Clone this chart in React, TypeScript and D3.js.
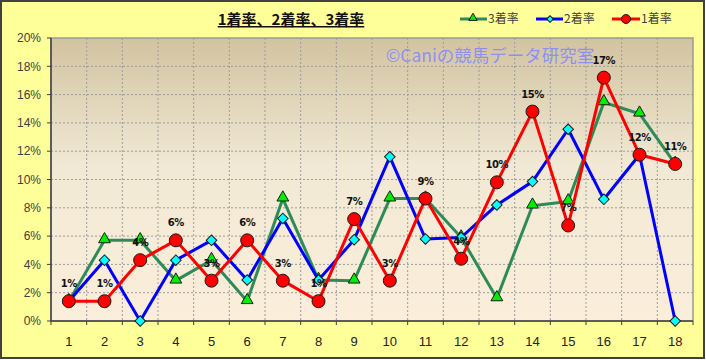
import React from "react";
import * as d3 from "d3";

const categories = ["1","2","3","4","5","6","7","8","9","10","11","12","13","14","15","16","17","18"];
const win = [1.4,1.4,4.3,5.7,2.85,5.7,2.85,1.4,7.2,2.85,8.65,4.4,9.8,14.8,6.75,17.2,11.75,11.1];
const second = [1.4,4.3,0,4.3,5.7,2.9,7.25,2.9,5.75,11.6,5.8,5.9,8.2,9.85,13.55,8.6,11.75,0];
const third = [1.4,5.7,5.7,2.85,4.3,1.4,8.65,2.9,2.85,8.65,8.65,5.9,1.6,8.15,8.45,15.45,14.65,11.1];
const yTicks = [0,2,4,6,8,10,12,14,16,18,20];
const winLabels = ["1%","1%","4%","6%","3%","6%","3%","1%","7%","3%","9%","4%","10%","15%","7%","17%","12%","11%"];

const W = 706, H = 360;
const m = { left: 51, right: 693, top: 38, bottom: 321 };

export default function App() {
  const x = d3.scaleBand<string>().domain(categories).range([m.left, m.right]);
  const y = d3.scaleLinear().domain([0, 20]).range([m.bottom, m.top]);
  const cx = (i: number) => (x(categories[i]) as number) + x.bandwidth() / 2;
  const line = d3.line<number>().x((_, i) => cx(i)).y((d) => y(d));
  const bounds = categories.map((c) => x(c) as number).slice(1);
  const tri = d3.symbol().type(d3.symbolTriangle).size(60)();
  const dia = d3.symbol().type(d3.symbolSquare).size(56)();
  const legendTri = d3.symbol().type(d3.symbolTriangle).size(30)();
  const legendDia = d3.symbol().type(d3.symbolSquare).size(22)();
  const font = "'Noto Sans CJK JP', 'DejaVu Sans', sans-serif";
  return (
    <svg width={W} height={H} style={{ position: "absolute", left: 0, top: 0 }} fontFamily={font}>
      <defs>
        <linearGradient id="bg" x1="0" y1="0" x2="0" y2="1">
          <stop offset="0" stopColor="#D2C3A0" />
          <stop offset="0.45" stopColor="#F1E9D5" />
          <stop offset="1" stopColor="#FBEEDA" />
        </linearGradient>
      </defs>
      <rect x={1} y={1} width={W - 3} height={H - 3} fill="#FFFF99" stroke="#404040" strokeWidth={2} />
      <rect x={m.left} y={m.top} width={m.right - m.left} height={m.bottom - m.top} fill="url(#bg)" stroke="#9a9a9a" strokeWidth={1.5} />
      {yTicks.slice(1, -1).map((t) => (
        <line key={"h" + t} x1={m.left} x2={m.right} y1={y(t)} y2={y(t)} stroke="#9c9c9c" strokeDasharray="2,2" strokeWidth={1} />
      ))}
      {bounds.map((b, i) => (
        <line key={"v" + i} x1={b} x2={b} y1={m.top} y2={m.bottom} stroke="#9c9c9c" strokeDasharray="2,2" strokeWidth={1} />
      ))}
      <line x1={m.left} x2={m.left} y1={m.top} y2={m.bottom} stroke="#404040" strokeWidth={1.5} />
      <line x1={m.left} x2={m.right} y1={m.bottom} y2={m.bottom} stroke="#404040" strokeWidth={1.5} />
      {bounds.concat([m.left, m.right]).map((b, i) => (
        <line key={"t" + i} x1={b} x2={b} y1={m.bottom} y2={m.bottom + 4} stroke="#404040" strokeWidth={1} />
      ))}
      {yTicks.map((t) => (
        <g key={"yl" + t}>
          <line x1={m.left - 4} x2={m.left} y1={y(t)} y2={y(t)} stroke="#404040" />
          <text x={41} y={y(t)} dy="0.35em" textAnchor="end" fontSize={12} fill="#404040" fontFamily="'Liberation Sans', Arial, sans-serif">{t + "%"}</text>
        </g>
      ))}
      {categories.map((c, i) => (
        <text key={"xl" + c} x={cx(i)} y={341} dy="0.35em" textAnchor="middle" fontSize={13} fill="#222" fontFamily="'Liberation Sans', Arial, sans-serif">{c}</text>
      ))}
      <text x={291} y={25} textAnchor="middle" fontSize={15} fontWeight="bold" fill="#111" style={{ textDecoration: "underline" }}>1着率、2着率、3着率</text>
      <text x={490} y={62} textAnchor="middle" fontSize={17.5} fill="#7f86ff" fillOpacity={0.85}>©Caniの競馬データ研究室</text>
      <path d={line(third) || ""} fill="none" stroke="#2E8B57" strokeWidth={3} strokeLinejoin="round" />
      {third.map((v, i) => (
        <path key={"g" + i} d={tri || ""} transform={`translate(${cx(i)},${y(v) - 1})`} fill="#00EE00" stroke="#1a1a1a" strokeWidth={1} />
      ))}
      <path d={line(second) || ""} fill="none" stroke="#0000FF" strokeWidth={3} strokeLinejoin="round" />
      {second.map((v, i) => (
        <path key={"b" + i} d={dia || ""} transform={`translate(${cx(i)},${y(v)}) rotate(45)`} fill="#00FFFF" stroke="#1a1a1a" strokeWidth={1} />
      ))}
      <path d={line(win) || ""} fill="none" stroke="#FF0000" strokeWidth={3} strokeLinejoin="round" />
      {win.map((v, i) => (
        <circle key={"r" + i} cx={cx(i)} cy={y(v)} r={6.5} fill="#FF0000" stroke="#1a1a1a" strokeWidth={1} />
      ))}
      {win.map((v, i) => (
        <text key={"l" + i} x={cx(i)} y={y(v) - 14} textAnchor="middle" fontSize={10} fontWeight="bold" fill="#111" fontFamily="'DejaVu Sans', sans-serif" letterSpacing={-0.5}>{winLabels[i]}</text>
      ))}
      <g fontSize={12} fill="#404040">
        <line x1={460} x2={487} y1={19} y2={19} stroke="#2E8B57" strokeWidth={3} />
        <path d={legendTri || ""} transform="translate(473,18)" fill="#00EE00" stroke="#1a1a1a" />
        <text x={488} y={19} dy="0.35em">3着率</text>
        <line x1={536} x2={563} y1={19} y2={19} stroke="#0000FF" strokeWidth={3} />
        <path d={legendDia || ""} transform="translate(550,19) rotate(45)" fill="#00FFFF" stroke="#1a1a1a" />
        <text x={564} y={19} dy="0.35em">2着率</text>
        <line x1={612} x2={640} y1={19} y2={19} stroke="#FF0000" strokeWidth={3} />
        <circle cx={626} cy={19} r={4.5} fill="#FF0000" stroke="#1a1a1a" />
        <text x={641} y={19} dy="0.35em">1着率</text>
      </g>
    </svg>
  );
}
